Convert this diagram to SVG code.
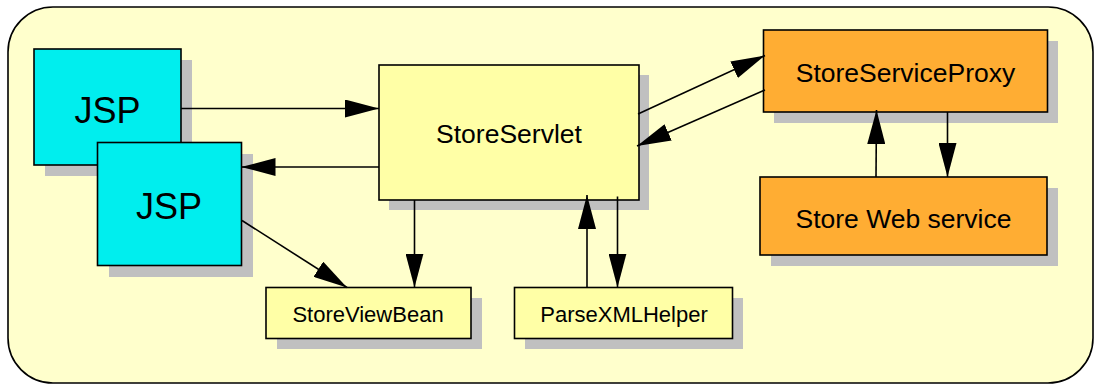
<svg xmlns="http://www.w3.org/2000/svg" width="1096" height="387" viewBox="0 0 1096 387">
  <defs>
    <style>
      .shadow { fill: #c0c0c0; }
      .box { stroke: #000; stroke-width: 1.6; }
      .jsp { fill: #00eeee; }
      .pale { fill: #ffffa6; }
      .orange { fill: #ffad33; }
      .lbl { font-family: "Liberation Sans", Arial, sans-serif; fill: #000; text-anchor: middle; }
      .edge { stroke: #000; stroke-width: 1.6; fill: none; marker-end: url(#head); }
    </style>
    <marker id="head" markerUnits="userSpaceOnUse" markerWidth="34" markerHeight="18" refX="34" refY="9" orient="auto">
      <path d="M0,0 L34,9 L0,18 Z" fill="#000"/>
    </marker>
  </defs>

  <!-- container -->
  <g id="container">
    <rect x="12" y="11" width="1081" height="372" rx="45" ry="45" class="shadow"/>
    <rect x="8" y="7" width="1085" height="376" rx="45" ry="45" fill="#ffffcc" stroke="#000" stroke-width="1.6"/>
  </g>

  <g id="jsp1">
    <rect x="45" y="60" width="147" height="116" class="shadow"/>
    <rect x="34" y="49" width="147" height="116" class="box jsp"/>
    <text x="107.5" y="123" class="lbl" font-size="36">JSP</text>
  </g>

  <g id="jsp2">
    <rect x="109" y="154" width="144" height="123" class="shadow"/>
    <rect x="97.5" y="142.5" width="144" height="123" class="box jsp"/>
    <text x="169" y="219" class="lbl" font-size="36">JSP</text>
  </g>

  <g id="storeServlet">
    <rect x="389" y="75" width="260" height="135" class="shadow"/>
    <rect x="379" y="65" width="260" height="135" class="box pale"/>
    <text x="509" y="143" class="lbl" font-size="26.5">StoreServlet</text>
  </g>

  <g id="storeServiceProxy">
    <rect x="774" y="41" width="284" height="82" class="shadow"/>
    <rect x="763.5" y="30" width="284" height="82" class="box orange"/>
    <text x="905.5" y="81.5" class="lbl" font-size="26.5">StoreServiceProxy</text>
  </g>

  <g id="storeWebService">
    <rect x="771" y="188" width="287" height="78" class="shadow"/>
    <rect x="760" y="177" width="287" height="78" class="box orange"/>
    <text x="903.5" y="228" class="lbl" font-size="26.5">Store Web service</text>
  </g>

  <g id="storeViewBean">
    <rect x="277" y="298" width="205" height="51" class="shadow"/>
    <rect x="266" y="287.5" width="205" height="51" class="box pale"/>
    <text x="368" y="321.5" class="lbl" font-size="22">StoreViewBean</text>
  </g>

  <g id="parseXMLHelper">
    <rect x="525" y="298" width="218" height="51" class="shadow"/>
    <rect x="514.5" y="287.5" width="218" height="51" class="box pale"/>
    <text x="624" y="321.5" class="lbl" font-size="22">ParseXMLHelper</text>
  </g>

  <!-- connectors -->
  <g id="connectors">
    <line x1="181" y1="108.5" x2="379" y2="108.5" class="edge"/>
    <line x1="379" y1="167" x2="241.5" y2="167" class="edge"/>
    <line x1="242" y1="220.5" x2="347" y2="287.5" class="edge"/>
    <line x1="414.5" y1="200" x2="414.5" y2="287.5" class="edge"/>
    <line x1="587" y1="287.5" x2="587" y2="195" class="edge"/>
    <line x1="617.5" y1="196.5" x2="617.5" y2="287.5" class="edge"/>
    <line x1="638" y1="114" x2="765" y2="55.5" class="edge"/>
    <line x1="765" y1="90" x2="637" y2="146" class="edge"/>
    <line x1="876" y1="177" x2="876.5" y2="110" class="edge"/>
    <line x1="947.5" y1="112" x2="947.5" y2="177" class="edge"/>
  </g>
</svg>
